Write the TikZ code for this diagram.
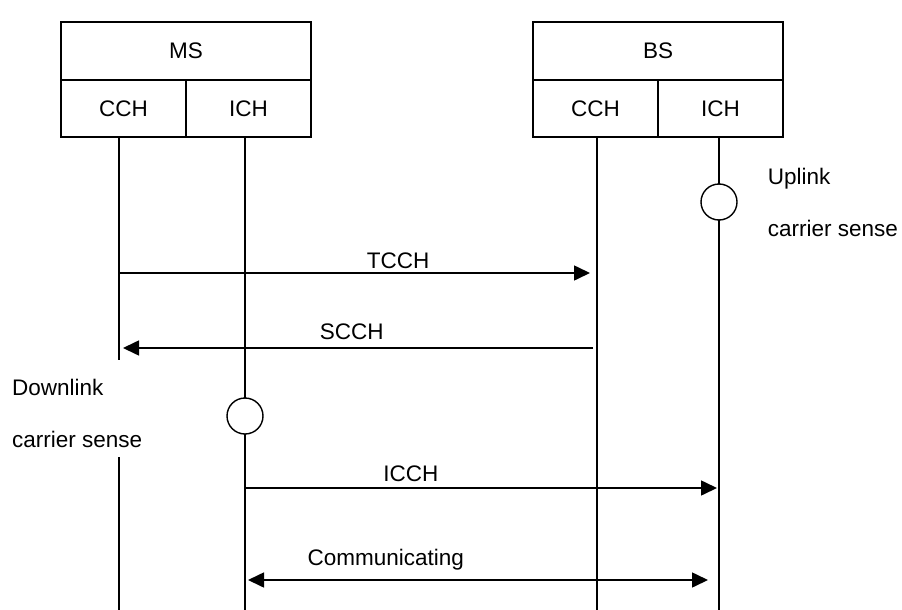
\documentclass[tikz,border=0pt]{standalone}
\usepackage{fontspec}
\setmainfont{Liberation Sans}
\usetikzlibrary{arrows.meta,positioning}

\begin{document}
\begin{tikzpicture}[
 x=1pt,y=-1pt,
 font=\fontsize{22.5}{27}\selectfont,
 hdr/.style={draw,line width=1.6pt,minimum width=250pt,minimum height=58pt,outer sep=0pt,inner sep=0pt},
 cell/.style={draw,line width=1.6pt,minimum width=125pt,minimum height=57pt,outer sep=0pt,inner sep=0pt},
 life/.style={line width=1.6pt},
 sense/.style={circle,draw,fill=white,line width=1.4pt,minimum size=36pt,inner sep=0pt},
 note/.style={align=left,font=\fontsize{22.5}{52}\selectfont,inner sep=0pt},
 msg/.style={-{Triangle[length=16pt,width=15pt]},line width=1.6pt},
 both/.style={{Triangle[length=16pt,width=15pt]}-{Triangle[length=16pt,width=15pt]},line width=1.6pt}
]
\useasboundingbox (0,0) rectangle (902,610);

% header boxes
\node[hdr] (ms) at (186,51) {MS};
\node[cell,below right=0pt of ms.south west] (mscch) {CCH};
\node[cell,right=0pt of mscch] (msich) {ICH};
\node[hdr] (bs) at (658,51) {BS};
\node[cell,below right=0pt of bs.south west] (bscch) {CCH};
\node[cell,right=0pt of bscch] (bsich) {ICH};

% lifelines
\coordinate (ms-c) at ([xshift=-4.5pt]mscch.south);
\coordinate (ms-i) at ([xshift=-3.5pt]msich.south);
\coordinate (bs-c) at ([xshift=1.5pt]bscch.south);
\coordinate (bs-i) at ([xshift=-1.5pt]bsich.south);
\coordinate (gap-top) at (0,360);
\coordinate (gap-bot) at (0,457);
\coordinate (bottom) at (0,610);
\draw[life] (ms-c) -- (ms-c |- gap-top);
\draw[life] (ms-c |- gap-bot) -- (ms-c |- bottom);
\draw[life] (ms-i) -- (ms-i |- bottom);
\draw[life] (bs-c) -- (bs-c |- bottom);
\draw[life] (bs-i) -- (bs-i |- bottom);

% carrier sense
\node[sense] (upsense) at (bs-i |- 0,202) {};
\node[note,right=30pt of upsense] (upnote) {Uplink\\carrier sense};
\node[sense] (dnsense) at (ms-i |- 0,416) {};
\node[note,anchor=west] (dnnote) at (12,413) {Downlink\\carrier sense};

% messages
\coordinate (r1) at (0,273);
\coordinate (r2) at (0,348);
\coordinate (r3) at (0,488);
\coordinate (r4) at (0,580);
\draw[msg,shorten >=7pt] (ms-c |- r1) -- node[pos=.584,above=0pt] {TCCH} (bs-c |- r1);
\draw[msg,shorten <=4pt,shorten >=4pt] (bs-c |- r2) -- node[pos=.513,above=4pt] {SCCH} (ms-c |- r2);
\draw[msg,shorten >=2pt] (ms-i |- r3) -- node[pos=.35,above=2.5pt] {ICCH} (bs-i |- r3);
\draw[both,shorten <=3pt,shorten >=11pt] (ms-i |- r4) -- node[pos=.297,above=6pt] {Communicating} (bs-i |- r4);
\end{tikzpicture}
\end{document}
